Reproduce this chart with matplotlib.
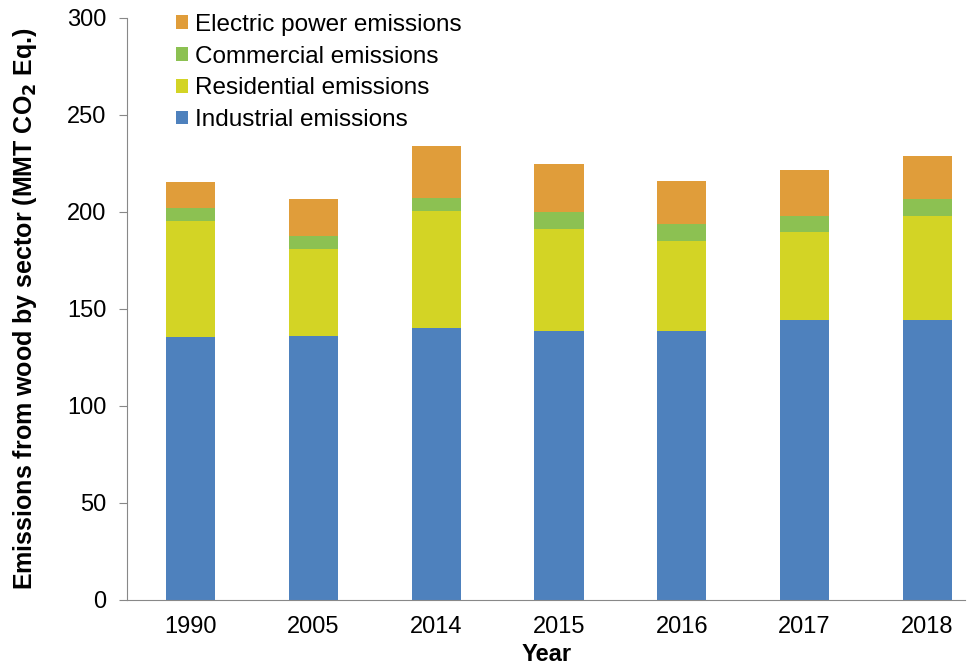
import numpy as np
import matplotlib
matplotlib.use("Agg")
from matplotlib import pyplot as plt

plt.rcParams.update({"font.family": ["Liberation Sans", "DejaVu Sans"]})

years = ["1990", "2005", "2014", "2015", "2016", "2017", "2018"]
industrial = [135.4, 136.1, 140.0, 138.5, 138.5, 144.3, 144.3]
residential = [60.0, 45.0, 60.5, 52.6, 46.6, 45.2, 53.6]
commercial = [6.5, 6.5, 6.6, 8.6, 8.7, 8.4, 8.6]
electric = [13.4, 18.9, 27.1, 25.0, 22.3, 23.6, 22.4]

colors = {
    "ind": "#4e81bd",
    "res": "#d3d425",
    "com": "#8cc152",
    "ele": "#e09d3a",
}

fig = plt.figure(figsize=(9.77, 6.65), dpi=100)
ax = fig.add_axes([0.13, 0.098, 0.858, 0.875])

x = np.arange(len(years))
w = 0.4
ind = np.array(industrial)
res = np.array(residential)
com = np.array(commercial)
ele = np.array(electric)

b1 = ax.bar(x, ind, w, color=colors["ind"], label="Industrial emissions")
b2 = ax.bar(x, res, w, bottom=ind, color=colors["res"], label="Residential emissions")
b3 = ax.bar(x, com, w, bottom=ind + res, color=colors["com"], label="Commercial emissions")
b4 = ax.bar(x, ele, w, bottom=ind + res + com, color=colors["ele"], label="Electric power emissions")

ax.set_xlim(-0.52, 6.31)
ax.set_ylim(0, 300)
ax.set_yticks(range(0, 301, 50))
ax.set_xticks(x)
ax.set_xticklabels(years)
ax.tick_params(axis="x", length=0, labelsize=17, pad=12)
ax.tick_params(axis="y", length=6, color="#888888", labelsize=17, pad=9, direction="out")

for s in ["top", "right"]:
    ax.spines[s].set_visible(False)
ax.spines["left"].set_color("#888888")
ax.spines["bottom"].set_color("#888888")

ax.set_xlabel("Year", fontsize=17, fontweight="bold", labelpad=3)
ax.set_ylabel(r"Emissions from wood by sector (MMT CO$_\mathbf{2}$ Eq.)",
              fontsize=18, fontweight="bold", labelpad=20)

ax.legend(handles=[b4, b3, b2, b1], loc="upper left",
          bbox_to_anchor=(176 / 977, 1 - 14 / 665), bbox_transform=fig.transFigure,
          borderpad=0, borderaxespad=0,
          frameon=False, fontsize=17.5, handlelength=0.5, handleheight=0.5,
          handletextpad=0.3, labelspacing=0.4)

fig.savefig("out.png", dpi=100)
